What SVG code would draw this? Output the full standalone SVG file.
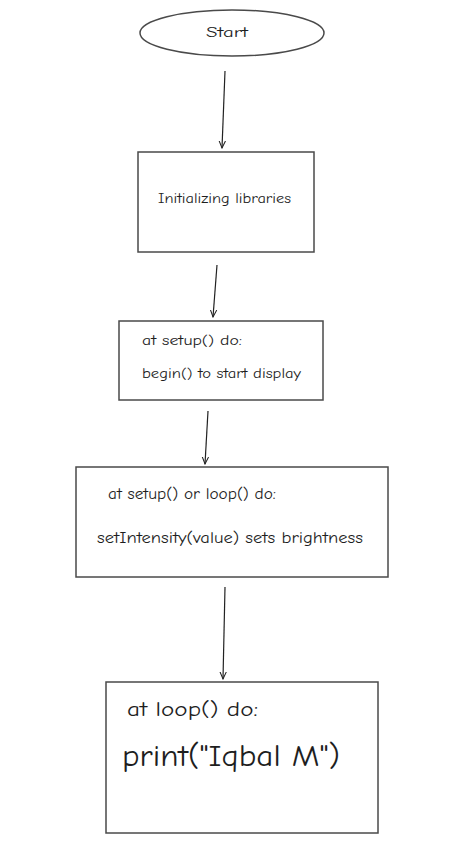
<svg xmlns="http://www.w3.org/2000/svg" width="472" height="844" viewBox="0 0 472 844">
<defs>
<style>
.shape{fill:#fff;stroke:#4a4a4a;stroke-width:1.5}
.conn{stroke:#222;stroke-width:1.2;fill:none}
text{font-family:"Comic Neue","Liberation Sans","DejaVu Sans",sans-serif;fill:#1e1e1e}
</style>
<marker id="ah" viewBox="0 0 10 10" refX="9" refY="5" markerWidth="8" markerHeight="8" orient="auto" markerUnits="userSpaceOnUse">
<path d="M0,1 L9,5 L0,9" fill="none" stroke="#222" stroke-width="1.3"/>
</marker>
</defs>
<rect width="472" height="844" fill="#fff"/>
<g id="connectors">
<line class="conn" x1="225" y1="71" x2="222" y2="148" marker-end="url(#ah)"/>
<line class="conn" x1="217" y1="265" x2="213" y2="317" marker-end="url(#ah)"/>
<line class="conn" x1="208" y1="411" x2="205" y2="464" marker-end="url(#ah)"/>
<line class="conn" x1="225" y1="587" x2="223" y2="679" marker-end="url(#ah)"/>
</g>
<g id="start">
<ellipse class="shape" cx="232" cy="33" rx="92" ry="23"/>
<text x="227" y="37" font-size="14" text-anchor="middle" textLength="42" lengthAdjust="spacingAndGlyphs">Start</text>
</g>
<g id="init">
<rect class="shape" x="138" y="152" width="176" height="100"/>
<text x="158" y="203" font-size="14" textLength="133" lengthAdjust="spacingAndGlyphs">Initializing libraries</text>
</g>
<g id="setup">
<rect class="shape" x="119" y="321" width="204" height="79"/>
<text x="142" y="345" font-size="14" textLength="100" lengthAdjust="spacingAndGlyphs">at setup() do:</text>
<text x="142" y="378" font-size="14" textLength="159" lengthAdjust="spacingAndGlyphs">begin() to start display</text>
</g>
<g id="intensity">
<rect class="shape" x="76" y="467" width="312" height="110"/>
<text x="108" y="499" font-size="15" textLength="168" lengthAdjust="spacingAndGlyphs">at setup() or loop() do:</text>
<text x="97" y="543" font-size="16" textLength="266" lengthAdjust="spacingAndGlyphs">setIntensity(value) sets brightness</text>
</g>
<g id="loop">
<rect class="shape" x="106" y="682" width="272" height="151"/>
<text x="127" y="716" font-size="20" textLength="131" lengthAdjust="spacingAndGlyphs">at loop() do:</text>
<text x="122" y="766" font-size="30" textLength="218" lengthAdjust="spacingAndGlyphs">print("Iqbal M")</text>
</g>
</svg>
